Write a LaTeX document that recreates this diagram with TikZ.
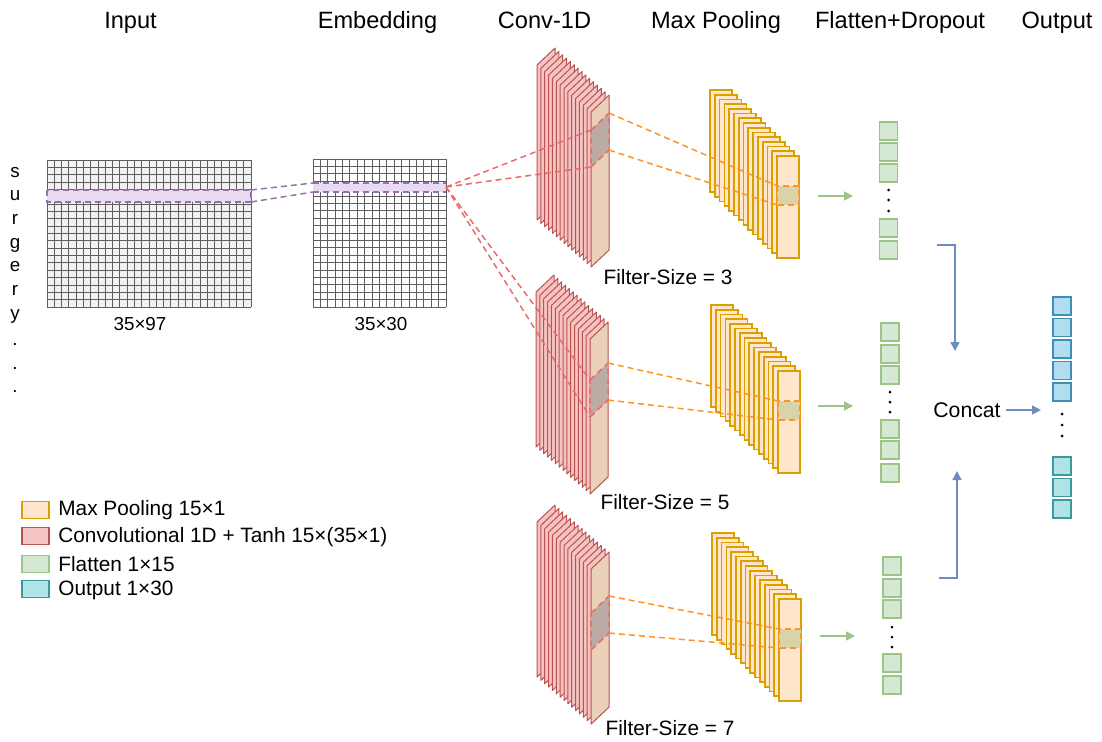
\documentclass[tikz,border=0pt]{standalone}
\usepackage{fontspec}
\setmainfont{Liberation Sans}
\usetikzlibrary{arrows.meta,calc}
\definecolor{convfill}{HTML}{F5C4C2}
\definecolor{convline}{HTML}{B85450}
\definecolor{convfront}{HTML}{EAD0B8}
\definecolor{grayreg}{HTML}{BCABA4}
\definecolor{poolfill}{HTML}{FFE6CC}
\definecolor{poolline}{HTML}{D9A000}
\definecolor{poolreg}{HTML}{D9D3AA}
\definecolor{flatfill}{HTML}{D5E8D4}
\definecolor{flatline}{HTML}{9CC485}
\definecolor{outbfill}{HTML}{B1DDF0}
\definecolor{outbline}{HTML}{3E8FB5}
\definecolor{outtfill}{HTML}{B0E3E6}
\definecolor{outtline}{HTML}{3A9AA0}
\definecolor{conline}{HTML}{6C8EBF}
\definecolor{reddash}{HTML}{EA6B66}
\definecolor{orgdash}{HTML}{FF9326}
\definecolor{purdash}{HTML}{9673A6}
\definecolor{purfill}{HTML}{E8DAF0}
\definecolor{gridcol}{HTML}{5E5E5E}
\definecolor{gridbg}{HTML}{F2F2F2}
\tikzset{
  hdr/.style={font=\fontsize{11.8}{13}\selectfont, inner sep=0pt, anchor=base},
  lbl/.style={font=\fontsize{10.4}{12}\selectfont, inner sep=0pt},
  dimlbl/.style={font=\fontsize{9.4}{11}\selectfont, inner sep=0pt},
  letter/.style={font=\fontsize{9.4}{11}\selectfont, inner sep=0pt, anchor=base},
  gridl/.style={draw=gridcol, line width=0.45pt},
  convplate/.style={draw=convline, fill=convfill, line width=0.5pt, line join=round},
  poolplate/.style={draw=poolline, fill=poolfill, line width=0.85pt},
  dline/.style={dash pattern=on 3pt off 2pt, line width=0.75pt},
  flatbox/.style={draw=flatline, fill=flatfill, line width=0.7pt, minimum width=9pt, minimum height=9pt, inner sep=0pt},
  outbbox/.style={draw=outbline, fill=outbfill, line width=0.7pt, minimum width=9pt, minimum height=9pt, inner sep=0pt},
  outtbox/.style={draw=outtline, fill=outtfill, line width=0.7pt, minimum width=9pt, minimum height=9pt, inner sep=0pt},
  legbox/.style={line width=0.7pt, minimum width=13.5pt, minimum height=8.5pt, inner sep=0pt},
  greenarr/.style={draw=flatline, line width=0.8pt, -{Triangle[length=4.5pt,width=4.5pt]}},
  bluearr/.style={draw=conline, line width=0.8pt, -{Triangle[length=4.5pt,width=4.5pt]}},
  vdot/.style={fill=black}
}
\newcommand{\convstack}[4]{%
  \foreach \k in {0,...,13}{
    \draw[convplate] ({#1+\k*3.86},{#2+\k*3.36}) -- ++(18,-17) -- ++(0,155) -- ++(-18,17) -- cycle;
  }
  \coordinate (#3F) at ({#1+14*3.86},{#2+14*3.36});
  \draw[convplate, fill=convfront] (#3F) -- ++(18,-17) -- ++(0,155) -- ++(-18,17) -- cycle;
  \coordinate (#3GTL) at ($(#3F)+(0,#4)$);
  \coordinate (#3GTR) at ($(#3GTL)+(18,-17)$);
  \coordinate (#3GBL) at ($(#3GTL)+(0,37)$);
  \coordinate (#3GBR) at ($(#3GTR)+(0,37)$);
  \fill[grayreg] (#3GTL) -- (#3GTR) -- (#3GBR) -- (#3GBL) -- cycle;
  \draw[reddash, dline] (#3GTL) -- (#3GTR) -- (#3GBR) -- (#3GBL) -- cycle;
}
\newcommand{\poolstack}[3]{%
  \foreach \k in {0,...,13}{
    \draw[poolplate] ({#1+\k*4.79},{#2+\k*4.71}) rectangle ++(22,102);
  }
  \coordinate (#3F) at ({#1+14*4.79},{#2+14*4.71});
  \draw[poolplate] (#3F) rectangle ++(22,102);
  \coordinate (#3TL) at ($(#3F)+(0,30)$);
  \coordinate (#3BL) at ($(#3F)+(0,49)$);
  \coordinate (#3BR) at ($(#3F)+(22,49)$);
  \fill[poolreg] (#3TL) rectangle (#3BR);
  \draw[orgdash, dline, line width=0.9pt] (#3TL) rectangle (#3BR);
}
\begin{document}
\begin{tikzpicture}[x=0.5pt,y=-0.5pt]
\useasboundingbox (0,0) rectangle (1102,741);

% headers
\node[hdr] (hInput) at (130.5,28.3) {Input};
\node[hdr] (hEmb) at (377.5,28.3) {Embedding};
\node[hdr] (hConv) at (544.5,28.3) {Conv-1D};
\node[hdr] (hPool) at (716,28.3) {Max Pooling};
\node[hdr] (hFlat) at (900,28.3) {Flatten+Dropout};
\node[hdr] (hOut) at (1057,28.3) {Output};

% word letters
\foreach \ch/\yy [count=\n] in {s/177, u/200, r/224, g/248, e/271, r/295, y/319, ./345, ./369, ./392}{
  \node[letter] (let\n) at (15,\yy) {\ch};
}

% input grid
\fill[gridbg] (47,160) rectangle (251,307);
\foreach \i in {0,...,28}{ \draw[gridl] ({47+\i*204/28},160) -- ({47+\i*204/28},307); }
\foreach \j in {0,...,20}{ \draw[gridl] (47,{160+\j*147/20}) -- (251,{160+\j*147/20}); }
\fill[purfill] (47,190) rectangle (251,202);
\draw[purdash, dline] (47,190) rectangle (251,202);
\coordinate (inTR) at (251,190);
\coordinate (inBR) at (251,202);
\node[dimlbl] (dimIn) at (140,324) {35×97};

% embedding grid
\fill[white] (313,159) rectangle (446,307);
\foreach \i in {0,...,18}{ \draw[gridl] ({313+\i*133/18},159) -- ({313+\i*133/18},307); }
\foreach \j in {0,...,20}{ \draw[gridl] (313,{159+\j*148/20}) -- (446,{159+\j*148/20}); }
\fill[purfill] (313,183) rectangle (446,192);
\draw[purdash, dline] (313,183) -- (446,183) (313,192) -- (446,192);
\coordinate (emTL) at (313,183);
\coordinate (emBL) at (313,192);
\coordinate (emR) at (446,187);
\node[dimlbl] (dimEm) at (381,324) {35×30};

\draw[purdash, dline] (inTR) -- (emTL);
\draw[purdash, dline] (inBR) -- (emBL);

% conv stacks
\convstack{537}{65}{ca}{18}
\convstack{536}{292}{cb}{41}
\convstack{537}{522}{cc}{44}

% pool stacks
\poolstack{710}{90}{pa}
\poolstack{711}{305}{pb}
\poolstack{712}{533}{pc}

% red connectors
\draw[reddash, dline] (emR) -- (caGTL);
\draw[reddash, dline] (emR) -- (caGBL);
\draw[reddash, dline] (emR) -- (cbGTL);
\draw[reddash, dline] (emR) -- (cbGBL);

% orange connectors
\draw[orgdash, dline] (caGTR) -- (paTL);
\draw[orgdash, dline] (caGBR) -- (paBL);
\draw[orgdash, dline] (cbGTR) -- (pbTL);
\draw[orgdash, dline] (cbGBR) -- (pbBL);
\draw[orgdash, dline] (ccGTR) -- (pcTL);
\draw[orgdash, dline] (ccGBR) -- (pcBL);

% filter labels
\node[lbl] (fs3) at (668,277) {Filter-Size = 3};
\node[lbl] (fs5) at (665,502) {Filter-Size = 5};
\node[lbl] (fs7) at (670,728) {Filter-Size = 7};

% green arrows
\coordinate (gaS) at (818,196); \coordinate (gaE) at (853,196);
\coordinate (gbS) at (818,406); \coordinate (gbE) at (853,406);
\coordinate (gcS) at (820,636); \coordinate (gcE) at (855,636);
\draw[greenarr] (gaS) -- (gaE);
\draw[greenarr] (gbS) -- (gbE);
\draw[greenarr] (gcS) -- (gcE);

% flatten columns
\foreach \yy [count=\n] in {131,152,173,228,250}{ \node[flatbox] (fa\n) at (888.5,\yy) {}; }
\foreach \yy in {190,200,211}{ \fill[vdot] (888.5,\yy) circle (1.5); }
\foreach \yy [count=\n] in {332,354,375,429,450,473}{ \node[flatbox] (fb\n) at (890,\yy) {}; }
\foreach \yy in {392,402,412}{ \fill[vdot] (890,\yy) circle (1.5); }
\foreach \yy [count=\n] in {566,588,609,663,685}{ \node[flatbox] (fc\n) at (892,\yy) {}; }
\foreach \yy in {627,637,647}{ \fill[vdot] (892,\yy) circle (1.5); }

% blue connectors
\coordinate (baS) at (937,245); \coordinate (baE) at (955,351);
\coordinate (bcS) at (939,578); \coordinate (bcE) at (957,471);
\draw[bluearr] (baS) -| (baE);
\draw[bluearr] (bcS) -| (bcE);

\node[font=\fontsize{10.6}{12}\selectfont, inner sep=2.5pt] (concat) at (967,410) {Concat};
\coordinate (outIn) at (1041,410);
\draw[bluearr] (concat.east) -- (outIn);

% output column
\foreach \yy [count=\n] in {306,327.5,349,370.5,392}{ \node[outbbox] (ob\n) at (1062,\yy) {}; }
\foreach \yy in {414,425,436}{ \fill[vdot] (1062,\yy) circle (1.5); }
\foreach \yy [count=\n] in {466,487.5,509}{ \node[outtbox] (ot\n) at (1062,\yy) {}; }

% legend
\node[legbox, draw=poolline, fill=poolfill] (lg1) at (35.5,510) {};
\node[legbox, draw=convline, fill=convfill] (lg2) at (35.5,536) {};
\node[legbox, draw=flatline, fill=flatfill] (lg3) at (35.5,564) {};
\node[legbox, draw=outtline, fill=outtfill] (lg4) at (35.5,589) {};
\node[lbl, anchor=west] (lt1) at (58,510) {Max Pooling 15×1};
\node[lbl, anchor=west] (lt2) at (58,537) {Convolutional 1D + Tanh 15×(35×1)};
\node[lbl, anchor=west] (lt3) at (58,564) {Flatten 1×15};
\node[lbl, anchor=west] (lt4) at (58,590) {Output 1×30};
\end{tikzpicture}
\end{document}
